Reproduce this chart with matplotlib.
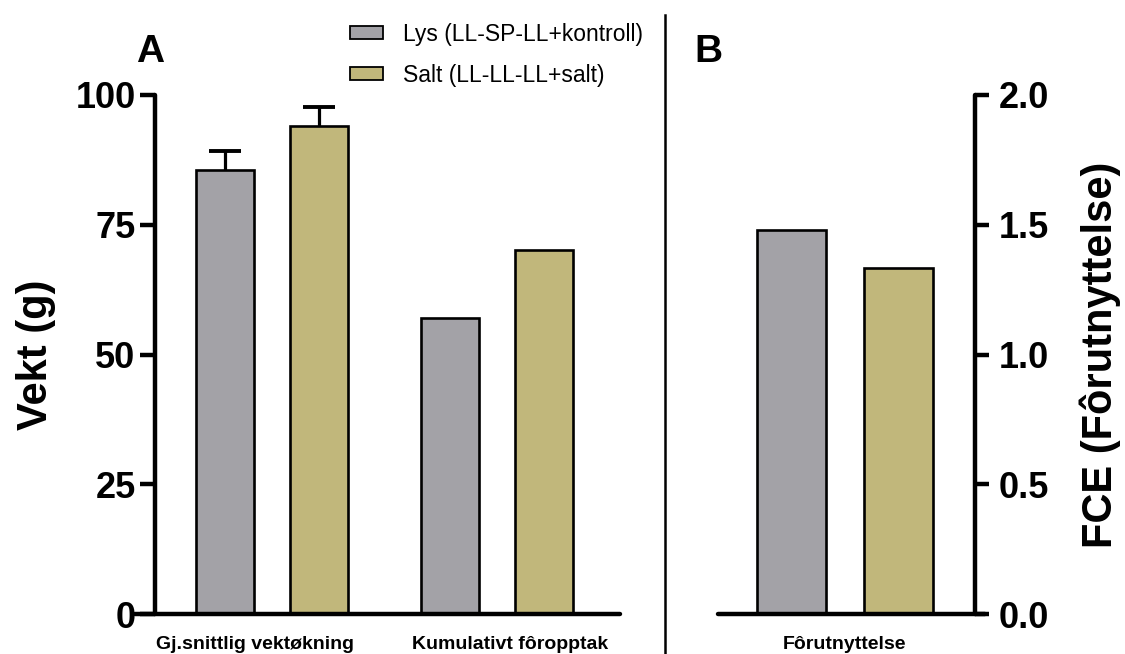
import matplotlib
matplotlib.use("Agg")
import matplotlib.pyplot as plt
from matplotlib.patches import Patch
from matplotlib.lines import Line2D
import matplotlib.transforms as mtransforms

plt.rcParams['font.family'] = ['Liberation Sans', 'DejaVu Sans']
plt.rcParams['font.weight'] = 'bold'

# Data
series_names = ["Lys (LL-SP-LL+kontroll)", "Salt (LL-LL-LL+salt)"]
colors = ["#A3A2A7", "#C1B77B"]
categories_a = ["Gj.snittlig vektøkning", "Kumulativt fôropptak"]
lys_a = [85.5, 57.0]
salt_a = [94.0, 70.1]
lys_a_err = [3.7, 0]
salt_a_err = [3.7, 0]
categories_b = ["Fôrutnyttelse"]
lys_b = [1.48]
salt_b = [1.335]
yticks_a = [0, 25, 50, 75, 100]
yticks_b = [0.0, 0.5, 1.0, 1.5, 2.0]

W, H = 1125, 654
fig = plt.figure(figsize=(W / 100, H / 100), dpi=100)

def fx(px):
    return px / W

def fy(py):
    return 1 - py / H

spine_lw = 3.2
edge_lw = 1.9
tick_fs = 26

# Panel A
axA = fig.add_axes([fx(135), fy(614), fx(620) - fx(135), fy(95) - fy(614)])
xa = [0, 1]
off_a, w_a = 0.209, 0.258
cap_half = 0.07
axA.bar([x - off_a for x in xa], lys_a, width=w_a, color=colors[0],
        edgecolor="black", linewidth=edge_lw, zorder=2)
axA.bar([x + off_a for x in xa], salt_a, width=w_a, color=colors[1],
        edgecolor="black", linewidth=edge_lw, zorder=2)
for vals, errs, sgn in ((lys_a, lys_a_err, -1), (salt_a, salt_a_err, 1)):
    for x, v, e in zip(xa, vals, errs):
        if e > 0:
            cx = x + sgn * off_a
            axA.vlines(cx, v, v + e, colors="black", linewidth=2.3, zorder=1)
            axA.hlines(v + e, cx - cap_half, cx + cap_half, colors="black",
                       linewidth=2.8, zorder=1)
axA.set_xlim(-0.609, 1.547)
axA.set_ylim(0, 100)
axA.set_yticks(yticks_a)
axA.set_yticklabels([str(t) for t in yticks_a])
axA.set_xticks(xa)
axA.set_xticklabels(categories_a)
axA.tick_params(axis="x", length=0, pad=16, labelsize=14)
axA.tick_params(axis="y", length=11, width=spine_lw, pad=3, direction="out",
                labelsize=tick_fs)
for lab, dx in zip(axA.get_xticklabels(), [-17, 13]):
    lab.set_transform(lab.get_transform() +
                      mtransforms.ScaledTranslation(dx / 100, 0, fig.dpi_scale_trans))
for s in ("top", "right"):
    axA.spines[s].set_visible(False)
axA.spines["left"].set_position(("axes", 20 / 485))
for s in ("left", "bottom"):
    axA.spines[s].set_linewidth(spine_lw)
    axA.spines[s].set_capstyle("round")

# Panel B
axB = fig.add_axes([fx(718), fy(614), fx(985) - fx(718), fy(95) - fy(614)])
off_b, w_b = 0.238, 0.307
axB.bar([-off_b], lys_b, width=w_b, color=colors[0], edgecolor="black",
        linewidth=edge_lw, zorder=2)
axB.bar([off_b], salt_b, width=w_b, color=colors[1], edgecolor="black",
        linewidth=edge_lw, zorder=2)
axB.set_xlim(-0.564, 0.622)
axB.set_ylim(0, 2.0)
axB.yaxis.tick_right()
axB.set_yticks(yticks_b)
axB.set_yticklabels([f"{t:.1f}" for t in yticks_b])
axB.set_xticks([0])
axB.set_xticklabels(categories_b)
axB.tick_params(axis="x", length=0, pad=16, labelsize=14)
axB.tick_params(axis="y", length=10, width=spine_lw, pad=7, direction="out",
                labelsize=tick_fs)
for s in ("top", "left"):
    axB.spines[s].set_visible(False)
axB.spines["right"].set_position(("axes", (975 - 718) / 267))
for s in ("right", "bottom"):
    axB.spines[s].set_linewidth(spine_lw)
    axB.spines[s].set_capstyle("round")

# Axis titles
fig.text(fx(36), fy(355), "Vekt (g)", fontsize=30, fontweight="bold",
         rotation=90, ha="center", va="center")
fig.text(fx(1100), fy(355), "FCE (Fôrutnyttelse)", fontsize=30, fontweight="bold",
         rotation=90, ha="center", va="center")

# Panel letters
fig.text(fx(150), fy(52), "A", fontsize=28, fontweight="bold", ha="center", va="center")
fig.text(fx(708), fy(52), "B", fontsize=28, fontweight="bold", ha="center", va="center")

# Divider between panels
fig.add_artist(Line2D([fx(665), fx(665)], [fy(15), 0], color="black", linewidth=1.8))

# Legend
handles = [Patch(facecolor=c, edgecolor="black", linewidth=1.3) for c in colors]
fig.legend(handles, series_names, loc="upper left", bbox_to_anchor=(fx(350), fy(23)),
           frameon=False, prop={"size": 16.5, "weight": "normal"},
           handlelength=1.45, handleheight=0.5, handletextpad=0.85,
           labelspacing=0.78, borderpad=0, borderaxespad=0)

fig.savefig("out.png", dpi=100)
